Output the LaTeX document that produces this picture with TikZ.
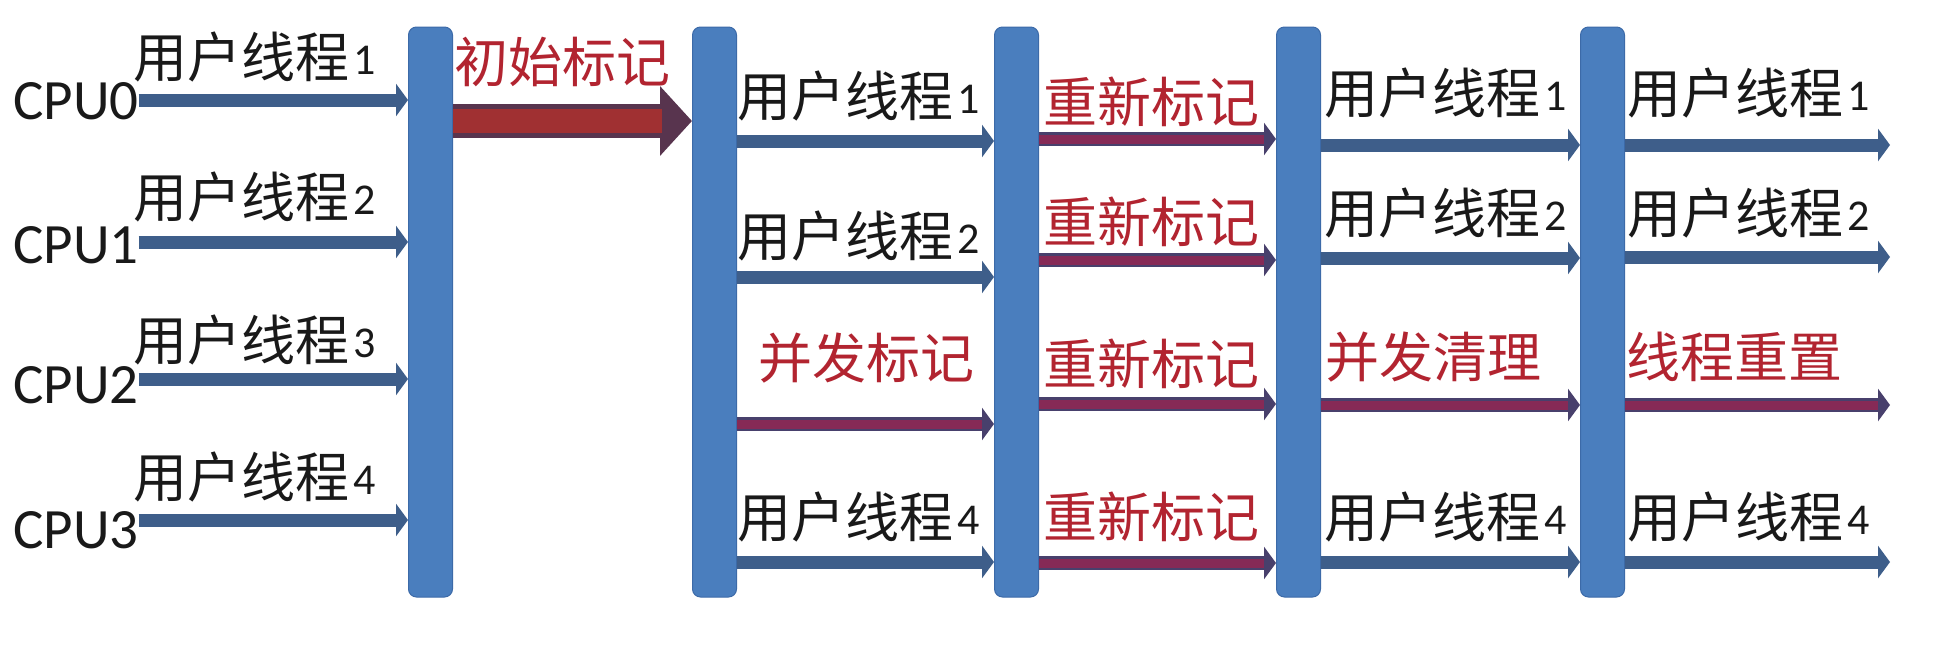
\documentclass[tikz,border=0pt]{standalone}
\usepackage{fontspec}
\setmainfont{Carlito}
\newfontfamily\cjkfont{Noto Sans CJK SC}
\usetikzlibrary{arrows.meta}
\definecolor{barblue}{RGB}{74,126,190}
\definecolor{baredge}{RGB}{60,106,168}
\definecolor{arrblue}{RGB}{62,94,138}
\definecolor{arrnavy}{RGB}{72,64,108}
\definecolor{arrmaroon}{RGB}{134,42,86}
\definecolor{markred}{RGB}{178,36,48}
\definecolor{bigred}{RGB}{160,48,50}
\definecolor{bigdark}{RGB}{88,52,78}
\definecolor{txt}{RGB}{25,25,25}
\newcommand{\zhtxt}[1]{{\cjkfont #1}}
\newcommand{\uthr}[1]{{\cjkfont 用户线程}\kern4pt\raisebox{3pt}{\fontsize{44}{44}\selectfont #1}}
\begin{document}
\begin{tikzpicture}[x=1pt,y=-1pt,
  barbox/.style={rectangle,rounded corners=8pt,fill=barblue,draw=baredge,line width=1pt,
    minimum width=44pt,minimum height=570pt,inner sep=0pt},
  lbl/.style={anchor=west,inner sep=0pt,text=txt,font=\fontsize{54}{60}\selectfont},
  redlbl/.style={lbl,text=markred},
  cpulbl/.style={anchor=west,inner sep=0pt,text=txt,font=\fontsize{57}{60}\selectfont},
  flow/.style={draw=arrblue,line width=13pt,-{Triangle[length=12pt,width=32pt]}},
  redflow/.style={draw=arrnavy,line width=14pt,-{Triangle[length=12pt,width=32pt]}},
  redcore/.style={draw=arrmaroon,line width=9pt,shorten >=12pt},
  bigflow/.style={draw=bigdark,line width=34pt,-{Triangle[length=32pt,width=68pt]}},
  bigcore/.style={draw=bigred,line width=24pt,shorten >=30pt}]
\useasboundingbox[fill=white] (0,0) rectangle (1954,654);

% bars
\node[barbox] (bar1) at (430.5,312) {};
\node[barbox] (bar2) at (714.5,312) {};
\node[barbox] (bar3) at (1016.5,312) {};
\node[barbox] (bar4) at (1298.5,312) {};
\node[barbox] (bar5) at (1602.5,312) {};

% section 1: CPUs
\node[cpulbl] (cpu0) at (13,101) {CPU0};
\node[cpulbl] (cpu1) at (13,245) {CPU1};
\node[cpulbl] (cpu2) at (13,385) {CPU2};
\node[cpulbl] (cpu3) at (13,530) {CPU3};
\node[lbl] (s1a) at (133,57) {\uthr{1}};
\node[lbl] (s1b) at (133,197) {\uthr{2}};
\node[lbl] (s1c) at (133,340) {\uthr{3}};
\node[lbl] (s1d) at (133,477) {\uthr{4}};
\coordinate (y1a) at (0,100);
\coordinate (y1b) at (0,242);
\coordinate (y1c) at (0,379);
\coordinate (y1d) at (0,520);
\draw[flow] (cpu0.east |- y1a) -- (bar1.west |- y1a);
\draw[flow] (cpu1.east |- y1b) -- (bar1.west |- y1b);
\draw[flow] (cpu2.east |- y1c) -- (bar1.west |- y1c);
\draw[flow] (cpu3.east |- y1d) -- (bar1.west |- y1d);

% initial mark
\node[redlbl] (init) at (454,62) {\zhtxt{初始标记}};
\coordinate (ybig) at (0,121);
\draw[bigflow] (bar1.east |- ybig) -- (bar2.west |- ybig);
\draw[bigcore] (bar1.east |- ybig) -- (bar2.west |- ybig);

% section 2
\node[lbl] (s2a) at (737,96) {\uthr{1}};
\node[lbl] (s2b) at (737,236) {\uthr{2}};
\node[redlbl] (s2c) at (758,358) {\zhtxt{并发标记}};
\node[lbl] (s2d) at (737,517) {\uthr{4}};
\coordinate (y2a) at (0,141);
\coordinate (y2b) at (0,277);
\coordinate (y2c) at (0,424);
\coordinate (y2d) at (0,562);
\draw[flow] (bar2.east |- y2a) -- (bar3.west |- y2a);
\draw[flow] (bar2.east |- y2b) -- (bar3.west |- y2b);
\draw[redflow] (bar2.east |- y2c) -- (bar3.west |- y2c);
\draw[redcore] (bar2.east |- y2c) -- (bar3.west |- y2c);
\draw[flow] (bar2.east |- y2d) -- (bar3.west |- y2d);

% section 3
\node[redlbl] (s3a) at (1043,102) {\zhtxt{重新标记}};
\node[redlbl] (s3b) at (1043,222) {\zhtxt{重新标记}};
\node[redlbl] (s3c) at (1043,364) {\zhtxt{重新标记}};
\node[redlbl] (s3d) at (1043,517) {\zhtxt{重新标记}};
\coordinate (y3a) at (0,139);
\coordinate (y3b) at (0,260);
\coordinate (y3c) at (0,404);
\coordinate (y3d) at (0,563);
\foreach \r in {y3a,y3b,y3c,y3d}{
  \draw[redflow] (bar3.east |- \r) -- (bar4.west |- \r);
  \draw[redcore] (bar3.east |- \r) -- (bar4.west |- \r);
}

% section 4
\node[lbl] (s4a) at (1324,93) {\uthr{1}};
\node[lbl] (s4b) at (1324,213) {\uthr{2}};
\node[redlbl] (s4c) at (1325,357) {\zhtxt{并发清理}};
\node[lbl] (s4d) at (1324,517) {\uthr{4}};
\coordinate (y4a) at (0,145);
\coordinate (y4b) at (0,258);
\coordinate (y4c) at (0,405);
\coordinate (y4d) at (0,562);
\draw[flow] (bar4.east |- y4a) -- (bar5.west |- y4a);
\draw[flow] (bar4.east |- y4b) -- (bar5.west |- y4b);
\draw[redflow] (bar4.east |- y4c) -- (bar5.west |- y4c);
\draw[redcore] (bar4.east |- y4c) -- (bar5.west |- y4c);
\draw[flow] (bar4.east |- y4d) -- (bar5.west |- y4d);

% section 5
\node[lbl] (s5a) at (1627,93) {\uthr{1}};
\node[lbl] (s5b) at (1627,213) {\uthr{2}};
\node[redlbl] (s5c) at (1626,357) {\zhtxt{线程重置}};
\node[lbl] (s5d) at (1627,517) {\uthr{4}};
\coordinate (e5a) at (1890,145);
\coordinate (e5b) at (1890,257);
\coordinate (e5c) at (1890,405);
\coordinate (e5d) at (1890,562);
\draw[flow] (bar5.east |- e5a) -- (e5a);
\draw[flow] (bar5.east |- e5b) -- (e5b);
\draw[redflow] (bar5.east |- e5c) -- (e5c);
\draw[redcore] (bar5.east |- e5c) -- (e5c);
\draw[flow] (bar5.east |- e5d) -- (e5d);
\end{tikzpicture}
\end{document}
